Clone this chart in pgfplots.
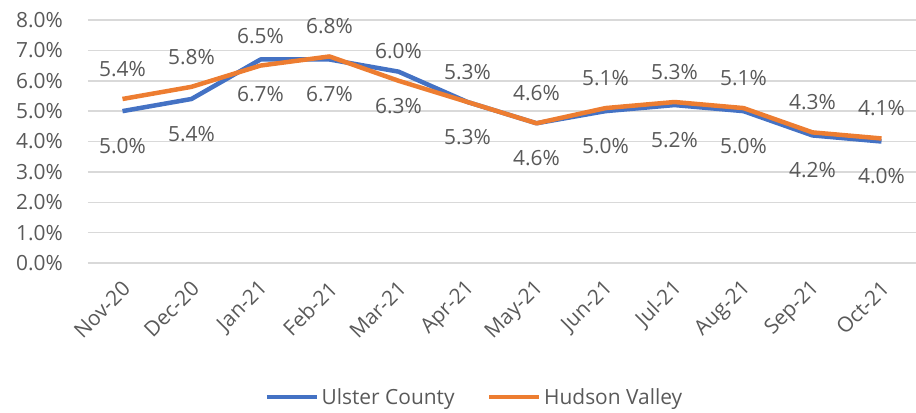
\documentclass[border=0pt]{standalone}
\usepackage{pgfplots}
\pgfplotsset{compat=1.18}
\usepackage{fontspec}
\setmainfont{Open Sans}
\definecolor{UC}{HTML}{4472C4}
\definecolor{HV}{HTML}{ED7D31}
\definecolor{TX}{HTML}{595959}
\definecolor{GR}{HTML}{D9D9D9}
\newcommand\lab{\fontsize{21}{25}\selectfont}

\pgfplotstableread{
x ulster hudson
0 5.0 5.4
1 5.4 5.8
2 6.7 6.5
3 6.7 6.8
4 6.3 6.0
5 5.3 5.3
6 4.6 4.6
7 5.0 5.1
8 5.2 5.3
9 5.0 5.1
10 4.2 4.3
11 4.0 4.1
}\rates

\begin{document}
\begin{tikzpicture}
\begin{axis}[
  scale only axis,
  width=828bp, height=243bp,
  xmin=-0.5, xmax=11.5, ymin=0, ymax=8,
  xtick={0,...,11},
  xticklabels={Nov-20,Dec-20,Jan-21,Feb-21,Mar-21,Apr-21,May-21,Jun-21,Jul-21,Aug-21,Sep-21,Oct-21},
  ytick={0,1,...,8},
  /pgf/number format/assume math mode=true,
  yticklabel={\pgfmathprintnumber[fixed,fixed zerofill,precision=1]{\tick}\%},
  tick label style={text=TX, font=\lab},
  yticklabel style={inner sep=0pt, xshift=-25bp},
  xticklabel style={inner sep=0pt, yshift=-22bp, xshift=4bp, rotate=45, anchor=east},
  major tick length=0pt,
  axis line style={draw=none},
  ymajorgrids, grid style={GR, line width=1.5bp},
  legend columns=2,
  legend style={at={(rel axis cs:0.467,-0.551)}, anchor=center, draw=none, fill=none,
    text=TX, font=\lab, nodes={inner sep=2.5bp},
    /tikz/every even column/.append style={column sep=30bp}},
  legend image code/.code={\draw[#1, line width=4.5bp] (0bp,0bp) -- (50bp,0bp);},
  every node near coord/.append style={text=TX, inner sep=0pt, font=\lab},
]
\addplot[UC, line width=4.5bp, line join=round] table[x=x, y=ulster] {\rates};
\addlegendentry{Ulster County}
\addplot[HV, line width=4.5bp, line join=round] table[x=x, y=hudson] {\rates};
\addlegendentry{Hudson Valley}
\addplot[draw=none, forget plot, nodes near coords={\pgfmathprintnumber[fixed,fixed zerofill,precision=1]{\pgfplotspointmeta}\%},
  every node near coord/.append style={anchor=north, yshift=-27bp}]
  table[x=x, y=ulster] {\rates};
\addplot[draw=none, forget plot, nodes near coords={\pgfmathprintnumber[fixed,fixed zerofill,precision=1]{\pgfplotspointmeta}\%},
  every node near coord/.append style={anchor=south, yshift=22bp}]
  table[x=x, y=hudson] {\rates};
\coordinate (bl) at (rel axis cs:0,0);
\coordinate (tr) at (rel axis cs:1,1);
\end{axis}
\pgfresetboundingbox
\path ([xshift=-88bp, yshift=-150bp]bl) rectangle ([yshift=20bp]tr);
\end{tikzpicture}
\end{document}
